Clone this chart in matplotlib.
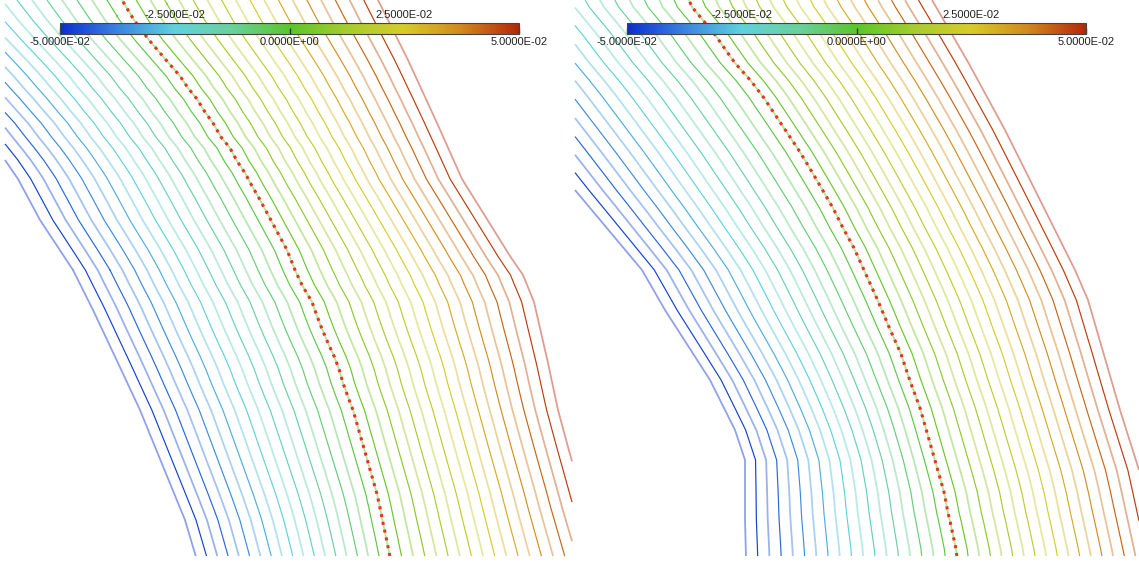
import numpy as np
import matplotlib
matplotlib.use("Agg")
import matplotlib.pyplot as plt
from matplotlib.colors import LinearSegmentedColormap, Normalize
from matplotlib.cm import ScalarMappable

W, H = 1139, 563

# colour table
cmap_pos = [0.0, 0.125, 0.25, 0.375, 0.5, 0.625, 0.75, 0.875, 1.0]
cmap_hex = ["#0a2ed0", "#3a84e0", "#5fd2dc", "#6ad09c", "#5ac62a",
            "#a6cc2e", "#d6cc2a", "#d2881e", "#b4280a"]

vmin, vmax = -0.05, 0.05
n_levels = 37
ticks_below = [-0.05, 0.0, 0.05]
ticks_above = [-0.025, 0.025]

# --- left panel (image px): where the -0.05, 0 and +0.05 lines sit per row
left_box = (5, 572, 0, 556)
left_blue_y = [0, 60, 123, 160, 179, 220, 270, 310, 363, 410, 459, 520, 557]
left_blue_x = [-148, -85, -25, 5, 18, 40, 73, 93, 118, 140, 160, 185, 196]
left_zero_y = [0, 20, 40, 60, 76, 88, 99, 112, 123, 137, 148, 161, 173, 186,
               198, 211, 224, 237, 250, 270, 285, 302, 316, 329, 343, 356,
               369, 383, 397, 410, 424, 438, 452, 466, 480, 494, 508, 523,
               537, 557]
left_zero_x = [122, 134, 149, 166, 180, 188, 197, 205, 213, 221, 230, 237,
               245, 252, 259, 266, 273, 280, 287, 295, 302, 312, 317, 322,
               328, 334, 339, 343, 348, 353, 357, 361, 365, 369, 373, 377,
               380, 383, 386, 390]
left_red_y = [0, 60, 123, 179, 256, 275, 302, 363, 410, 447, 508, 557]
left_red_x = [378, 408, 437, 462, 510, 523, 534, 548, 558, 568, 585, 600]

# --- right panel
right_box = (575, 1139, 0, 556)
right_blue_y = [0, 63, 134, 190, 270, 310, 380, 430, 460, 520, 557]
right_blue_x = [422, 473, 530, 575, 642, 665, 710, 735, 745, 745, 746]
right_zero_y = [0, 7, 19, 36, 49, 63, 81, 98, 116, 134, 152, 172, 189, 208,
                228, 248, 259, 301, 327, 354, 381, 408, 436, 464, 492, 513,
                521, 549, 557]
right_zero_x = [689, 692, 702, 716, 725, 735, 751, 764, 776, 788, 800, 812,
                822, 833, 843, 854, 859, 878, 889, 901, 910, 920, 928, 936,
                944, 948, 950, 956, 957]
right_red_y = [0, 62, 130, 200, 270, 300, 410, 470, 557]
right_red_x = [932, 968, 1005, 1040, 1075, 1088, 1120, 1139, 1158]

cmap = LinearSegmentedColormap.from_list("pv", list(zip(cmap_pos, cmap_hex)))
norm = Normalize(vmin, vmax)
levels = np.linspace(vmin, vmax, n_levels)


def level_field(box, by, bx, zy, zx, ry, rx):
    x0, x1, y0, y1 = box
    xs = np.arange(x0, x1 + 0.5, 1.0)
    ys = np.arange(y0, y1 + 0.5, 1.0)
    X, Y = np.meshgrid(xs, ys)
    b = np.interp(ys, by, bx)[:, None]
    z = np.interp(ys, zy, zx)[:, None]
    r = np.interp(ys, ry, rx)[:, None]
    phi = np.where(X < z, vmin * (z - X) / (z - b), vmax * (X - z) / (r - z))
    return X, Y, phi


def draw_panel(ax, X, Y, phi):
    pale = levels[0::2]
    solid = levels[1::2]
    ax.contour(X, Y, phi, levels=pale, colors=[cmap(norm(v)) for v in pale],
               linewidths=1.3, alpha=0.45)
    ax.contour(X, Y, phi, levels=solid, colors=[cmap(norm(v)) for v in solid],
               linewidths=0.85)
    ax.contour(X, Y, phi, levels=[0.0], colors=["#e8341c"],
               linewidths=2.2, linestyles=[(0, (1, 1.6))])


def add_bar(fig, left_px):
    cax = fig.add_axes([left_px / W, 1 - 34 / H, 459 / W, 11 / H])
    cb = fig.colorbar(ScalarMappable(norm=norm, cmap=cmap), cax=cax,
                      orientation="horizontal")
    cb.set_ticks(ticks_below, labels=[f"{v:.4E}" for v in ticks_below])
    cb.outline.set_edgecolor("#444444")
    cb.outline.set_linewidth(0.8)
    cax.tick_params(axis="x", direction="in", length=4, width=1,
                    color="#333333", labelsize=8, pad=2, labelcolor="#222222")
    top = cax.secondary_xaxis("top")
    top.set_ticks(ticks_above, labels=[f"{v:.4E}" for v in ticks_above])
    top.tick_params(axis="x", direction="in", length=4, width=1,
                    color="#333333", labelsize=8, pad=2, labelcolor="#222222")
    for s in top.spines.values():
        s.set_visible(False)


plt.rcParams["font.family"] = ["Liberation Sans", "DejaVu Sans"]

fig = plt.figure(figsize=(W / 100, H / 100), dpi=100)
ax = fig.add_axes([0, 0, 1, 1])
ax.set_xlim(0, W)
ax.set_ylim(H, 0)
ax.axis("off")

draw_panel(ax, *level_field(left_box, left_blue_y, left_blue_x, left_zero_y,
                            left_zero_x, left_red_y, left_red_x))
draw_panel(ax, *level_field(right_box, right_blue_y, right_blue_x, right_zero_y,
                            right_zero_x, right_red_y, right_red_x))

add_bar(fig, 60)
add_bar(fig, 627)

fig.savefig("out.png", dpi=100, facecolor="white")
